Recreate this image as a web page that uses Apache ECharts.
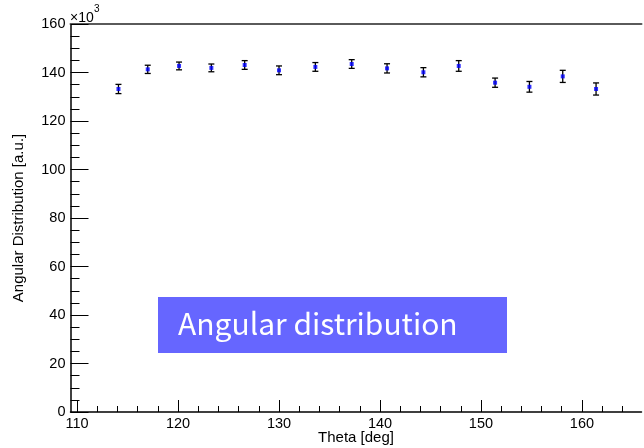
<!DOCTYPE html>
<html>
<head>
<meta charset="utf-8">
<script src="https://cdn.jsdelivr.net/npm/echarts@6/dist/echarts.min.js"></script>
<style>
  html, body { margin: 0; padding: 0; background: #fff; }
  #chart { width: 644px; height: 448px; }
</style>
</head>
<body>
<div id="chart"></div>
<script>
// Bin centres in degrees
const theta = [114.1, 117.0, 120.1, 123.3, 126.6, 130.0, 133.6, 137.2, 140.7, 144.3, 147.8, 151.4, 154.8, 158.1, 161.4];
// Bin contents (in units of 10^3)
const counts = [133.2, 141.3, 142.7, 141.9, 143.1, 140.9, 142.3, 143.5, 141.7, 140.1, 142.7, 135.8, 134.1, 138.4, 133.2];
// Statistical errors (in units of 10^3)
const errors = [1.9, 1.7, 1.6, 1.6, 1.8, 1.8, 1.8, 1.8, 1.9, 1.9, 2.2, 1.9, 2.2, 2.5, 2.5];

const xMajor = [110, 120, 130, 140, 150, 160];
const xMinor = [112, 114, 116, 118, 122, 124, 126, 128, 132, 134, 136, 138, 142, 144, 146, 148, 152, 154, 156, 158, 162, 164];

const X_MIN = 109.35, X_MAX = 165.9;
const FONT = 'Liberation Sans, Arial, sans-serif';

const points = theta.map((t, i) => [t, counts[i]]);
const bars = theta.map((t, i) => [t, counts[i] - errors[i], counts[i] + errors[i]]);

const chart = echarts.init(document.getElementById('chart'), null, { renderer: 'canvas' });

chart.setOption({
  animation: false,
  backgroundColor: '#ffffff',
  grid: { left: 70.5, right: 2.5, top: 24, bottom: 36, containLabel: false, outerBoundsMode: 'none' },
  xAxis: [
    {
      type: 'value', min: X_MIN, max: X_MAX, position: 'bottom',
      axisLine: { show: true, lineStyle: { color: '#000', width: 1.5 } },
      axisTick: { show: true, inside: true, length: 12, customValues: xMajor, lineStyle: { color: '#000', width: 1 } },
      axisLabel: { show: true, customValues: xMajor, margin: 4, color: '#000', fontSize: 14.5, fontFamily: FONT },
      splitLine: { show: false }
    },
    {
      type: 'value', min: X_MIN, max: X_MAX, position: 'bottom',
      axisLine: { show: false },
      axisTick: { show: true, inside: true, length: 6, customValues: xMinor, lineStyle: { color: '#000', width: 1 } },
      axisLabel: { show: false },
      splitLine: { show: false }
    },
    {
      type: 'value', min: X_MIN, max: X_MAX, position: 'top',
      axisLine: { show: true, lineStyle: { color: '#5a5a5a', width: 2 } },
      axisTick: { show: false },
      axisLabel: { show: false },
      splitLine: { show: false }
    }
  ],
  yAxis: {
    type: 'value', min: 0, max: 160, interval: 20,
    axisLine: { show: true, lineStyle: { color: '#000', width: 1.5 } },
    axisTick: { show: true, inside: true, length: 18, lineStyle: { color: '#000', width: 1 } },
    minorTick: { show: true, splitNumber: 4, length: 9, lineStyle: { color: '#000', width: 1 } },
    axisLabel: { margin: 5, color: '#000', fontSize: 14.5, fontFamily: FONT },
    splitLine: { show: false },
    name: 'Angular Distribution [a.u.]', nameLocation: 'middle', nameRotate: 90, nameGap: 44,
    nameTextStyle: { color: '#000', fontSize: 15, fontFamily: FONT }
  },
  series: [
    {
      type: 'custom',
      xAxisIndex: 0,
      data: bars,
      encode: { x: 0, y: [1, 2] },
      renderItem: function (params, api) {
        const x = api.value(0);
        const lo = api.coord([x, api.value(1)]);
        const hi = api.coord([x, api.value(2)]);
        const cap = 3;
        const style = { stroke: '#000', lineWidth: 1.3 };
        return {
          type: 'group',
          children: [
            { type: 'line', shape: { x1: lo[0], y1: lo[1], x2: hi[0], y2: hi[1] }, style: style },
            { type: 'line', shape: { x1: lo[0] - cap, y1: lo[1], x2: lo[0] + cap, y2: lo[1] }, style: style },
            { type: 'line', shape: { x1: hi[0] - cap, y1: hi[1], x2: hi[0] + cap, y2: hi[1] }, style: style }
          ]
        };
      },
      z: 2
    },
    {
      type: 'scatter',
      xAxisIndex: 0,
      data: points,
      symbol: 'rect',
      symbolSize: 4,
      itemStyle: { color: '#0000ff' },
      z: 3
    }
  ],
  graphic: [
    {
      type: 'text', x: 356, y: 438,
      style: { text: 'Theta [deg]', fill: '#000', font: '15px ' + FONT, textAlign: 'center', textVerticalAlign: 'middle' }
    },
    {
      type: 'text', left: 70, top: 11,
      style: { text: '×10', fill: '#000', font: '14px ' + FONT }
    },
    {
      type: 'text', left: 94, top: 4,
      style: { text: '3', fill: '#000', font: '10px ' + FONT }
    },
    {
      type: 'rect', left: 158, top: 297,
      shape: { width: 349, height: 56 },
      style: { fill: '#6666ff' }
    },
    {
      type: 'text', left: 178, top: 309,
      style: { text: 'Angular distribution', fill: '#ffffff', font: '30px "Noto Sans CJK JP", "Noto Sans", sans-serif' }
    }
  ]
});
</script>
</body>
</html>
